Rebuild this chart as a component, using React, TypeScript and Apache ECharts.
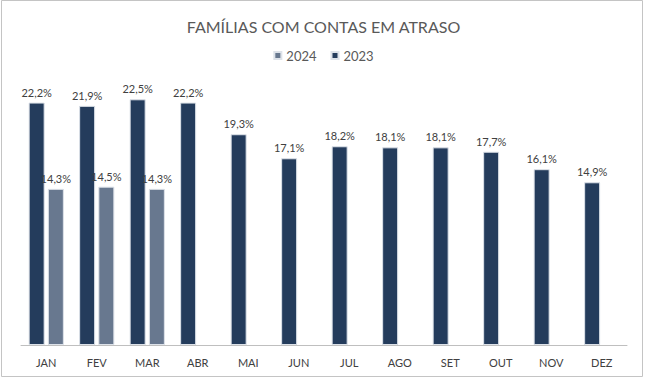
import React, { useEffect, useRef } from "react";
import * as echarts from "echarts";

const categories = ["JAN", "FEV", "MAR", "ABR", "MAI", "JUN", "JUL", "AGO", "SET", "OUT", "NOV", "DEZ"];
const values2023 = [22.2, 21.9, 22.5, 22.2, 19.3, 17.1, 18.2, 18.1, 18.1, 17.7, 16.1, 14.9];
const values2024: (number | null)[] = [14.3, 14.5, 14.3, null, null, null, null, null, null, null, null, null];
const titleText = "FAMÍLIAS COM CONTAS EM ATRASO";

const FONT = "Lato, 'Open Sans', sans-serif";
const fmt = (p: any) => (p.value == null ? "" : String(p.value.toFixed(1)).replace(".", ",") + "%");

export default function App() {
  const ref = useRef<HTMLDivElement>(null);
  useEffect(() => {
    document.body.style.margin = "0";
    const chart = echarts.init(ref.current!, null, { renderer: "svg" });
    chart.setOption({
      animation: false,
      backgroundColor: "#ffffff",
      title: {
        text: titleText,
        left: "center",
        top: 13,
        textStyle: { fontFamily: FONT, fontSize: 16, fontWeight: "normal", color: "#595959" },
      },
      legend: {
        data: ["2024", "2023"],
        top: 44,
        left: "center",
        itemWidth: 7,
        itemHeight: 7,
        itemGap: 14,
        icon: "rect",
        textStyle: { fontFamily: FONT, fontSize: 13, color: "#595959" },
      },
      graphic: [
        {
          type: "rect",
          shape: { x: 1.5, y: 0.5, width: 641, height: 376 },
          style: { fill: "none", stroke: "#c4c4c4", lineWidth: 1 },
          silent: true,
        },
      ],
      grid: { left: 21, right: 20, top: 72, bottom: 34 },
      xAxis: {
        type: "category",
        data: categories,
        axisTick: { show: false },
        axisLine: { lineStyle: { color: "#bfbfbf", width: 1 } },
        axisLabel: { fontFamily: FONT, fontSize: 11, color: "#404040", margin: 12 },
      },
      yAxis: {
        type: "value",
        min: 0,
        max: 25,
        show: false,
        splitLine: { show: false },
      },
      series: [
        {
          name: "2023",
          type: "bar",
          data: values2023,
          barWidth: 16,
          barGap: "20%",
          itemStyle: { color: "#243c5c", borderColor: "#dde2e9", borderWidth: 1 },
          label: {
            show: true,
            position: "top",
            distance: 5,
            formatter: fmt,
            fontFamily: FONT,
            fontSize: 11,
            color: "#404040",
          },
        },
        {
          name: "2024",
          type: "bar",
          data: values2024,
          barWidth: 16,
          barGap: "20%",
          itemStyle: { color: "#68788f", borderColor: "#dde2e9", borderWidth: 1 },
          label: {
            show: true,
            position: "top",
            distance: 5,
            formatter: fmt,
            fontFamily: FONT,
            fontSize: 11,
            color: "#404040",
          },
        },
      ],
    });
    return () => chart.dispose();
  }, []);
  return <div ref={ref} style={{ width: 647, height: 379 }} />;
}
